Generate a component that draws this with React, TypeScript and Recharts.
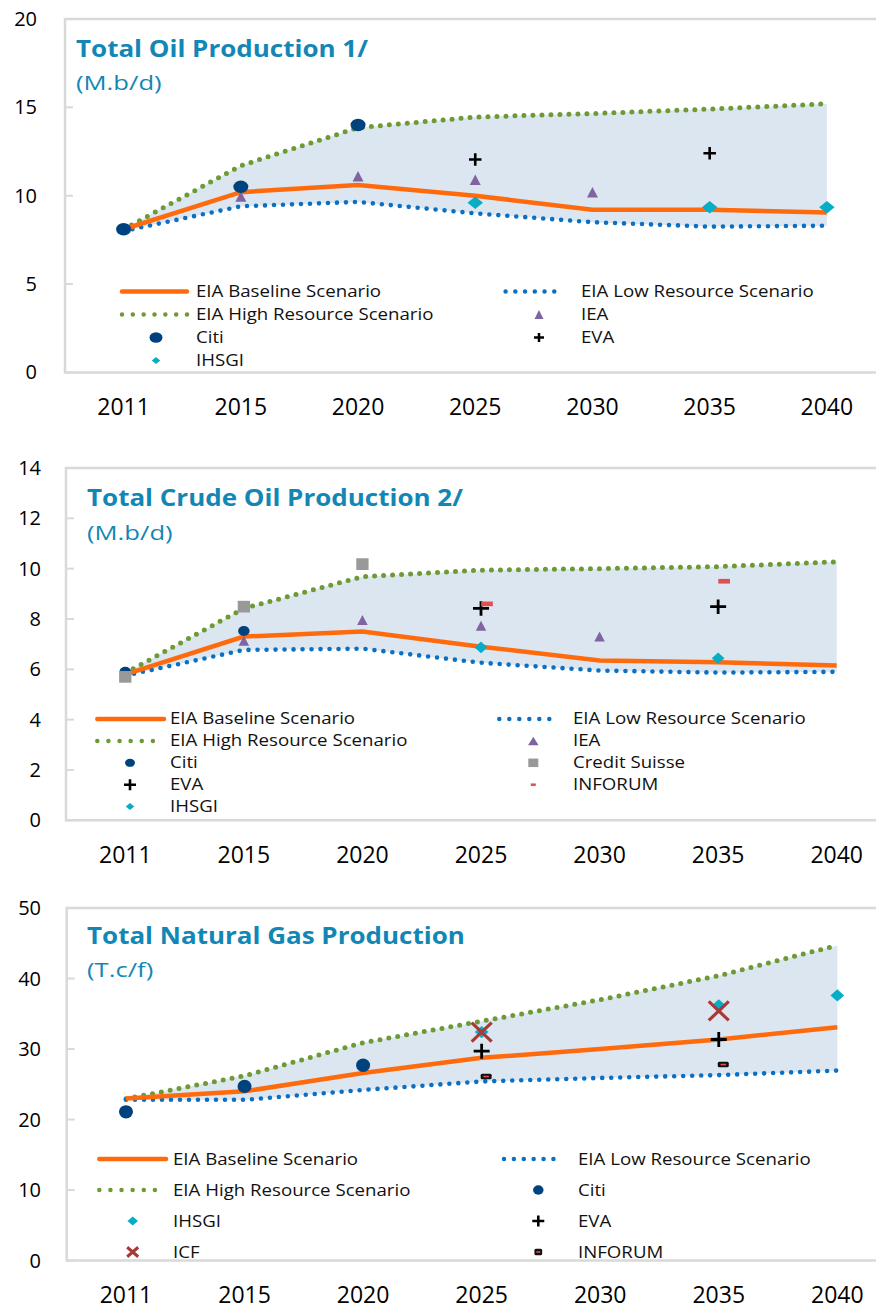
import React from 'react';
import { ComposedChart, Line, Area, XAxis, YAxis, ReferenceArea, Legend } from 'recharts';

const YEARS = ['2011', '2015', '2020', '2025', '2030', '2035', '2040'];

// Total oil production (M.b/d)
const OIL_BASELINE = [8.1, 10.2, 10.6, 10.0, 9.2, 9.2, 9.05];
const OIL_LOW = [8.0, 9.4, 9.65, 9.0, 8.5, 8.25, 8.3];
const OIL_HIGH = [8.1, 11.7, 13.85, 14.45, 14.65, 14.9, 15.2];
const OIL_CITI = [8.1, 10.5, 14.0, null, null, null, null];
const OIL_IEA = [null, 9.95, 11.1, 10.9, 10.2, null, null];
const OIL_EVA = [null, null, null, 12.05, null, 12.4, null];
const OIL_IHSGI = [null, null, null, 9.6, null, 9.35, 9.35];
const OIL_TICKS = [0, 5, 10, 15, 20];

// Total crude oil production (M.b/d)
const CRUDE_BASELINE = [5.8, 7.3, 7.5, 6.9, 6.35, 6.28, 6.15];
const CRUDE_LOW = [5.75, 6.77, 6.82, 6.26, 5.95, 5.87, 5.9];
const CRUDE_HIGH = [5.85, 8.42, 9.68, 9.94, 10.0, 10.08, 10.27];
const CRUDE_CITI = [5.9, 7.52, null, null, null, null, null];
const CRUDE_CS = [5.7, 8.49, 10.18, null, null, null, null];
const CRUDE_IEA = [null, 7.14, 7.96, 7.73, 7.3, null, null];
const CRUDE_EVA = [null, null, null, 8.42, null, 8.49, null];
const CRUDE_INFORUM = [null, null, null, 8.6, null, 9.5, null];
const CRUDE_IHSGI = [null, null, null, 6.87, null, 6.44, null];
const CRUDE_TICKS = [0, 2, 4, 6, 8, 10, 12, 14];

// Total natural gas production (T.c/f)
const GAS_BASELINE = [23.0, 24.0, 26.6, 28.75, 30.0, 31.35, 33.1];
const GAS_LOW = [22.8, 22.8, 24.2, 25.4, 25.9, 26.3, 26.95];
const GAS_HIGH = [22.95, 26.2, 30.9, 33.95, 37.0, 40.4, 44.7];
const GAS_CITI = [21.1, 24.7, 27.7, null, null, null, null];
const GAS_IHSGI = [null, null, null, 32.4, null, 36.2, 37.6];
const GAS_EVA = [null, null, null, 29.7, null, 31.35, null];
const GAS_ICF = [null, null, null, 32.4, null, 35.4, null];
const GAS_INFORUM = [null, null, null, 26.1, null, 27.8, null];
const GAS_TICKS = [0, 10, 20, 30, 40, 50];

const OIL_LEGEND_LEFT = ['EIA Baseline Scenario', 'EIA High Resource Scenario', 'Citi', 'IHSGI'];
const OIL_LEGEND_RIGHT = ['EIA Low Resource Scenario', 'IEA', 'EVA'];
const CRUDE_LEGEND_LEFT = ['EIA Baseline Scenario', 'EIA High Resource Scenario', 'Citi', 'EVA', 'IHSGI'];
const CRUDE_LEGEND_RIGHT = ['EIA Low Resource Scenario', 'IEA', 'Credit Suisse', 'INFORUM'];
const GAS_LEGEND_LEFT = ['EIA Baseline Scenario', 'EIA High Resource Scenario', 'IHSGI', 'ICF'];
const GAS_LEGEND_RIGHT = ['EIA Low Resource Scenario', 'Citi', 'EVA', 'INFORUM'];

const FONT = "'Open Sans', 'Noto Sans', sans-serif";
const ORANGE = '#ff6a0c';
const GREEN = '#6e9a36';
const BLUE = '#0b70c4';
const NAVY = '#00427e';
const PURPLE = '#8064a2';
const TEAL = '#07adc4';
const GREY = '#999999';
const RED = '#e0504e';
const ICF_RED = '#a83a36';
const FILL = '#dbe6f1';
const BORDER = '#d9d9d9';
const TITLE = '#1287b5';
const TEXT = '#111111';

type Marker = { kind: string; color: string; w: number; h: number; t?: number; dx?: number };

function buildRows(series: Record<string, (number | null)[]>) {
  return YEARS.map((year, i) => {
    const row: Record<string, any> = { year };
    Object.keys(series).forEach((k) => {
      row[k] = series[k][i];
    });
    return row;
  });
}

function Shape({ m, x, y }: { m: Marker; x: number; y: number }) {
  const { kind, color, w, h } = m;
  const cx = x + (m.dx || 0);
  switch (kind) {
    case 'circle':
      return <ellipse cx={cx} cy={y} rx={w / 2} ry={h / 2} fill={color} />;
    case 'triangle':
      return <polygon points={`${cx},${y - h / 2} ${cx + w / 2},${y + h / 2} ${cx - w / 2},${y + h / 2}`} fill={color} />;
    case 'diamond':
      return <polygon points={`${cx},${y - h / 2} ${cx + w / 2},${y} ${cx},${y + h / 2} ${cx - w / 2},${y}`} fill={color} />;
    case 'square':
    case 'dash':
      return <rect x={cx - w / 2} y={y - h / 2} width={w} height={h} fill={color} />;
    case 'plus':
      return <path d={`M${cx - w / 2},${y}H${cx + w / 2}M${cx},${y - h / 2}V${y + h / 2}`} stroke={color} strokeWidth={m.t} fill="none" />;
    case 'cross':
      return (
        <path
          d={`M${cx - w / 2},${y - h / 2}L${cx + w / 2},${y + h / 2}M${cx + w / 2},${y - h / 2}L${cx - w / 2},${y + h / 2}`}
          stroke={color}
          strokeWidth={m.t}
          fill="none"
        />
      );
    case 'box':
      return (
        <g>
          <rect x={cx - w / 2} y={y - h / 2} width={w} height={h} rx={1.5} fill={color} />
          <rect x={cx - w / 4} y={y - 0.8} width={w / 2} height={1.6} fill={RED} />
        </g>
      );
    default:
      return null;
  }
}

const dotOf = (m: Marker, id: string) => (p: any) => {
  const k = `${id}-${p.index}`;
  if (p.value == null || p.cy == null || isNaN(p.cy)) return <g key={k} />;
  return (
    <g key={k}>
      <Shape m={m} x={p.cx} y={p.cy} />
    </g>
  );
};

const blankTick = () => <g />;
const band = (d: any) => [d.low, d.high];

type LegendCol = { x0: number; x1: number; mx: number; tx: number; names: string[] };
type PanelCfg = {
  top: number;
  rows: Record<string, any>[];
  yMax: number;
  yTicks: number[];
  left: number;
  right: number;
  plotH: number;
  tickMargin: number;
  title: string;
  unit: string;
  titleX: number;
  titleBase: number;
  unitBase: number;
  under: { key: string; m: Marker }[];
  over: { key: string; m: Marker }[];
  legendY: number;
  legendGap: number;
  cols: LegendCol[];
  legendMarks: Record<string, Marker>;
};

const LEGEND_FS = 16.5;

function LegendBlock({ cfg }: { cfg: PanelCfg }) {
  return (
    <div style={{ position: 'relative', width: 900, height: 440, fontFamily: FONT }}>
      <svg width={900} height={440} style={{ position: 'absolute', left: 0, top: 0, overflow: 'visible' }}>
        {cfg.cols.map((col, ci) =>
          col.names.map((name, ri) => {
            const y = cfg.legendY + ri * cfg.legendGap;
            if (name === 'EIA Baseline Scenario') {
              return <line key={`${ci}-${ri}`} x1={col.x0} x2={col.x1} y1={y} y2={y} stroke={ORANGE} strokeWidth={4.5} strokeLinecap="round" />;
            }
            if (name === 'EIA High Resource Scenario' || name === 'EIA Low Resource Scenario') {
              return (
                <line
                  key={`${ci}-${ri}`}
                  x1={col.x0}
                  x2={col.x1}
                  y1={y}
                  y2={y}
                  stroke={name.includes('High') ? GREEN : BLUE}
                  strokeWidth={4.5}
                  strokeLinecap="round"
                  strokeDasharray={`0 ${(col.x1 - col.x0) / 6}`}
                />
              );
            }
            return <Shape key={`${ci}-${ri}`} m={cfg.legendMarks[name]} x={col.mx} y={y} />;
          })
        )}
      </svg>
      {cfg.cols.map((col, ci) =>
        col.names.map((name, ri) => (
          <div
            key={`t${ci}-${ri}`}
            style={{
              position: 'absolute',
              left: col.tx,
              top: cfg.legendY + ri * cfg.legendGap - 0.531 * LEGEND_FS,
              fontSize: LEGEND_FS,
              lineHeight: `${LEGEND_FS}px`,
              color: TEXT,
              whiteSpace: 'nowrap',
              transform: 'scaleX(1.13)',
              transformOrigin: 'left center',
            }}
          >
            {name}
          </div>
        ))
      )}
    </div>
  );
}

function Panel({ cfg }: { cfg: PanelCfg }) {
  const height = 19 + cfg.plotH + 60;
  const plotW = 900 - cfg.left - cfg.right;
  const pad = plotW / 14;
  const dotted = { strokeWidth: 5, strokeDasharray: '0 9', strokeLinecap: 'round' as const };
  return (
    <div style={{ position: 'absolute', left: 0, top: cfg.top, width: 900, height }}>
      <ComposedChart width={900} height={height} data={cfg.rows} margin={{ top: 19, right: cfg.right, left: 0, bottom: 0 }}>
        <XAxis
          dataKey="year"
          type="category"
          height={60}
          padding={{ left: pad, right: pad }}
          axisLine={false}
          tickLine={false}
          tickSize={0}
          tickMargin={26}
          interval={0}
          tick={{ fontSize: 23, fill: '#000' }}
        />
        <XAxis
          xAxisId="edges"
          type="number"
          domain={[0, 7]}
          allowDataOverflow
          ticks={[1, 2, 3, 4, 5, 6]}
          mirror
          height={0}
          axisLine={false}
          tickLine={{ stroke: BORDER, strokeWidth: 2 }}
          tickSize={8}
          tick={blankTick}
        />
        <YAxis
          width={cfg.left}
          type="number"
          domain={[0, cfg.yMax]}
          ticks={cfg.yTicks}
          interval={0}
          axisLine={false}
          tickLine={{ stroke: BORDER, strokeWidth: 2 }}
          tickSize={-8}
          tickMargin={cfg.tickMargin}
          tick={{ fontSize: 20, fill: '#000' }}
        />
        <ReferenceArea
          xAxisId="edges"
          x1={0}
          x2={7}
          y1={0}
          y2={cfg.yMax}
          fill="none"
          stroke={BORDER}
          strokeWidth={2.5}
          ifOverflow="visible"
        />
        <Area dataKey={band} fill={FILL} fillOpacity={1} stroke="none" dot={false} activeDot={false} isAnimationActive={false} />
        <Line dataKey="high" stroke={GREEN} {...dotted} dot={false} activeDot={false} isAnimationActive={false} />
        <Line dataKey="low" stroke={BLUE} {...dotted} strokeWidth={4.6} dot={false} activeDot={false} isAnimationActive={false} />
        {cfg.under.map((s) => (
          <Line key={s.key} dataKey={s.key} stroke="none" dot={dotOf(s.m, s.key)} activeDot={false} isAnimationActive={false} />
        ))}
        <Line dataKey="base" stroke={ORANGE} strokeWidth={4.5} dot={false} activeDot={false} isAnimationActive={false} />
        {cfg.over.map((s) => (
          <Line key={s.key} dataKey={s.key} stroke="none" dot={dotOf(s.m, s.key)} activeDot={false} isAnimationActive={false} />
        ))}
        <Legend
          layout="vertical"
          align="center"
          verticalAlign="middle"
          wrapperStyle={{ left: 0, top: 0, width: 900, height: 0 }}
          content={() => <LegendBlock cfg={cfg} />}
        />
      </ComposedChart>
      <div
        style={{
          position: 'absolute',
          left: cfg.titleX,
          top: cfg.titleBase - 0.888 * 23,
          fontSize: 23,
          lineHeight: '23px',
          fontWeight: 700,
          color: TITLE,
          whiteSpace: 'nowrap',
          transform: 'scaleX(1.13)',
          transformOrigin: 'left center',
        }}
      >
        {cfg.title}
      </div>
      <div
        style={{
          position: 'absolute',
          left: cfg.titleX,
          top: cfg.unitBase - 0.888 * 20.5,
          fontSize: 20.5,
          lineHeight: '20.5px',
          color: TITLE,
          whiteSpace: 'nowrap',
          transform: 'scaleX(1.25)',
          transformOrigin: 'left center',
        }}
      >
        {cfg.unit}
      </div>
    </div>
  );
}

const oilCfg: PanelCfg = {
  top: 0,
  rows: buildRows({ base: OIL_BASELINE, low: OIL_LOW, high: OIL_HIGH, citi: OIL_CITI, iea: OIL_IEA, eva: OIL_EVA, ihsgi: OIL_IHSGI }),
  yMax: 20,
  yTicks: OIL_TICKS,
  left: 65,
  right: 14.5,
  plotH: 353.4,
  tickMargin: 36,
  title: 'Total Oil Production 1/',
  unit: '(M.b/d)',
  titleX: 76,
  titleBase: 57,
  unitBase: 90.5,
  under: [{ key: 'iea', m: { kind: 'triangle', color: PURPLE, w: 11, h: 10.5 } }],
  over: [
    { key: 'ihsgi', m: { kind: 'diamond', color: TEAL, w: 15.5, h: 12.5 } },
    { key: 'citi', m: { kind: 'circle', color: NAVY, w: 15, h: 12.5 } },
    { key: 'eva', m: { kind: 'plus', color: '#000', w: 12.5, h: 12.5, t: 2.6 } },
  ],
  legendY: 291.5,
  legendGap: 23,
  cols: [
    { x0: 122, x1: 187, mx: 156, tx: 195.5, names: OIL_LEGEND_LEFT },
    { x0: 505.6, x1: 564, mx: 539, tx: 581, names: OIL_LEGEND_RIGHT },
  ],
  legendMarks: {
    Citi: { kind: 'circle', color: NAVY, w: 13, h: 10.5 },
    IHSGI: { kind: 'diamond', color: TEAL, w: 8.5, h: 7 },
    IEA: { kind: 'triangle', color: PURPLE, w: 9, h: 9 },
    EVA: { kind: 'plus', color: '#000', w: 10, h: 9, t: 2.5 },
  },
};

const crudeCfg: PanelCfg = {
  top: 449,
  rows: buildRows({
    base: CRUDE_BASELINE,
    low: CRUDE_LOW,
    high: CRUDE_HIGH,
    citi: CRUDE_CITI,
    cs: CRUDE_CS,
    iea: CRUDE_IEA,
    eva: CRUDE_EVA,
    inforum: CRUDE_INFORUM,
    ihsgi: CRUDE_IHSGI,
  }),
  yMax: 14,
  yTicks: CRUDE_TICKS,
  left: 66,
  right: 4,
  plotH: 352.3,
  tickMargin: 33,
  title: 'Total Crude Oil Production 2/',
  unit: '(M.b/d)',
  titleX: 86.7,
  titleBase: 57.7,
  unitBase: 91,
  under: [{ key: 'iea', m: { kind: 'triangle', color: PURPLE, w: 10.5, h: 10 } }],
  over: [
    { key: 'ihsgi', m: { kind: 'diamond', color: TEAL, w: 12.7, h: 11.7 } },
    { key: 'citi', m: { kind: 'circle', color: NAVY, w: 11.5, h: 10 } },
    { key: 'cs', m: { kind: 'square', color: GREY, w: 12.3, h: 11.7 } },
    { key: 'eva', m: { kind: 'plus', color: '#000', w: 16, h: 14.5, t: 2.8 } },
    { key: 'inforum', m: { kind: 'dash', color: RED, w: 11.7, h: 4.7, dx: 6 } },
  ],
  legendY: 270,
  legendGap: 21.9,
  cols: [
    { x0: 97.3, x1: 164, mx: 130, tx: 170, names: CRUDE_LEGEND_LEFT },
    { x0: 499.3, x1: 559.3, mx: 533.3, tx: 572.7, names: CRUDE_LEGEND_RIGHT },
  ],
  legendMarks: {
    Citi: { kind: 'circle', color: NAVY, w: 10, h: 8 },
    EVA: { kind: 'plus', color: '#000', w: 12, h: 11, t: 2.6 },
    IHSGI: { kind: 'diamond', color: TEAL, w: 8.5, h: 7 },
    IEA: { kind: 'triangle', color: PURPLE, w: 10.5, h: 8.5 },
    'Credit Suisse': { kind: 'square', color: GREY, w: 10, h: 8.5 },
    INFORUM: { kind: 'dash', color: RED, w: 5, h: 2.5 },
  },
};

const gasCfg: PanelCfg = {
  top: 889.4,
  rows: buildRows({
    base: GAS_BASELINE,
    low: GAS_LOW,
    high: GAS_HIGH,
    citi: GAS_CITI,
    ihsgi: GAS_IHSGI,
    eva: GAS_EVA,
    icf: GAS_ICF,
    inforum: GAS_INFORUM,
  }),
  yMax: 50,
  yTicks: GAS_TICKS,
  left: 66.7,
  right: 3.4,
  plotH: 352.6,
  tickMargin: 33.7,
  title: 'Total Natural Gas Production',
  unit: '(T.c/f)',
  titleX: 86.7,
  titleBase: 54.9,
  unitBase: 88,
  under: [],
  over: [
    { key: 'citi', m: { kind: 'circle', color: NAVY, w: 14, h: 13.3 } },
    { key: 'ihsgi', m: { kind: 'diamond', color: TEAL, w: 13.7, h: 12.3 } },
    { key: 'icf', m: { kind: 'cross', color: ICF_RED, w: 20, h: 19, t: 3.2 } },
    { key: 'eva', m: { kind: 'plus', color: '#000', w: 16, h: 15, t: 2.8 } },
    { key: 'inforum', m: { kind: 'box', color: '#111', w: 11, h: 5.5, dx: 4.5 } },
  ],
  legendY: 270,
  legendGap: 31,
  cols: [
    { x0: 99.3, x1: 166, mx: 132.7, tx: 173.3, names: GAS_LEGEND_LEFT },
    { x0: 504, x1: 563.3, mx: 538.3, tx: 578.3, names: GAS_LEGEND_RIGHT },
  ],
  legendMarks: {
    IHSGI: { kind: 'diamond', color: TEAL, w: 10.5, h: 9 },
    ICF: { kind: 'cross', color: ICF_RED, w: 11, h: 9.5, t: 3 },
    Citi: { kind: 'circle', color: NAVY, w: 10.5, h: 9.3 },
    EVA: { kind: 'plus', color: '#000', w: 12, h: 11, t: 2.6 },
    INFORUM: { kind: 'box', color: '#111', w: 7.7, h: 6.7 },
  },
};

export default function App() {
  return (
    <div
      style={{
        position: 'absolute',
        left: 0,
        top: 0,
        width: 876,
        height: 1311,
        overflow: 'hidden',
        background: '#fff',
        fontFamily: FONT,
      }}
    >
      <Panel cfg={oilCfg} />
      <Panel cfg={crudeCfg} />
      <Panel cfg={gasCfg} />
    </div>
  );
}
